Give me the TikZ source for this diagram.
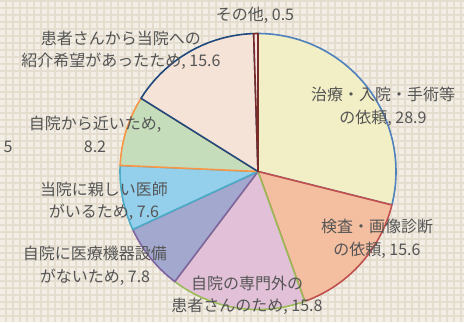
\documentclass[tikz,border=0pt]{standalone}
\usepackage{fontspec}
\setmainfont{Noto Sans CJK JP}
\definecolor{bgbase}{HTML}{E4DCCD}
\definecolor{bglight}{HTML}{F3EEE5}
\definecolor{txt}{HTML}{555555}
\definecolor{f1}{HTML}{F2EFC6}\definecolor{b1}{HTML}{4F81BD}
\definecolor{f2}{HTML}{F4BEA0}\definecolor{b2}{HTML}{C0504D}
\definecolor{f3}{HTML}{E2C1D8}\definecolor{b3}{HTML}{9BBB59}
\definecolor{f4}{HTML}{A3A8CE}\definecolor{b4}{HTML}{8064A2}
\definecolor{f5}{HTML}{94CFEC}\definecolor{b5}{HTML}{4BACC6}
\definecolor{f6}{HTML}{C5DDBA}\definecolor{b6}{HTML}{F79646}
\definecolor{f7}{HTML}{F5E3D7}\definecolor{b7}{HTML}{1F497D}
\definecolor{f8}{HTML}{F4E4E2}\definecolor{b8}{HTML}{772C2A}
\tikzset{
  lbl/.style={text=txt,align=center,font=\fontsize{16}{22.5}\selectfont,inner sep=0pt},
  slice/.style={line width=1.6pt,line join=round}
}
\newcommand{\pieslice}[4]{%
  \filldraw[slice,fill=#3,draw=#4] (c) -- ++(#1:138pt) arc[start angle=#1,end angle=#2,radius=138pt] -- cycle;}
\begin{document}
\begin{tikzpicture}[x=1pt,y=1pt]
\useasboundingbox (0,0) rectangle (464,322);
\fill[bgbase] (0,0) rectangle (464,322);
\begin{scope}
\clip (0,0) rectangle (464,322);
\fill[bglight] \foreach \i in {0,...,66}{\foreach \j in {0,...,46}{(\i*7,\j*7) rectangle ++(5,5)}};
\end{scope}
\coordinate (c) at (258,150.5);
\pieslice{90}{-14.04}{f1}{b1}
\pieslice{-14.04}{-70.2}{f2}{b2}
\pieslice{-70.2}{-127.08}{f3}{b3}
\pieslice{-127.08}{-155.16}{f4}{b4}
\pieslice{-155.16}{-182.52}{f5}{b5}
\pieslice{-182.52}{-212.04}{f6}{b6}
\pieslice{-212.04}{-268.2}{f7}{b7}
\pieslice{-268.2}{-270}{f8}{b8}
\node[lbl] (l8) at (255,307) {その他, 0.5};
\node[lbl] (l7) at (121,271.5) {患者さんから当院への\\紹介希望があったため, 15.6};
\node[lbl] (l6) at (95,187.5) {自院から近いため,\\8.2};
\node[lbl] (l0) at (8,175) {5};
\node[lbl] (l1) at (383,215) {治療・入院・手術等\\の依頼, 28.9};
\node[lbl] (l2) at (377,83) {検査・画像診断\\の依頼, 15.6};
\node[lbl] (l3) at (247,26.5) {自院の専門外の\\患者さんのため, 15.8};
\node[lbl] (l5) at (104,120.5) {当院に親しい医師\\がいるため, 7.6};
\node[lbl] (l4) at (95,56) {自院に医療機器設備\\がないため, 7.8};
\end{tikzpicture}
\end{document}
